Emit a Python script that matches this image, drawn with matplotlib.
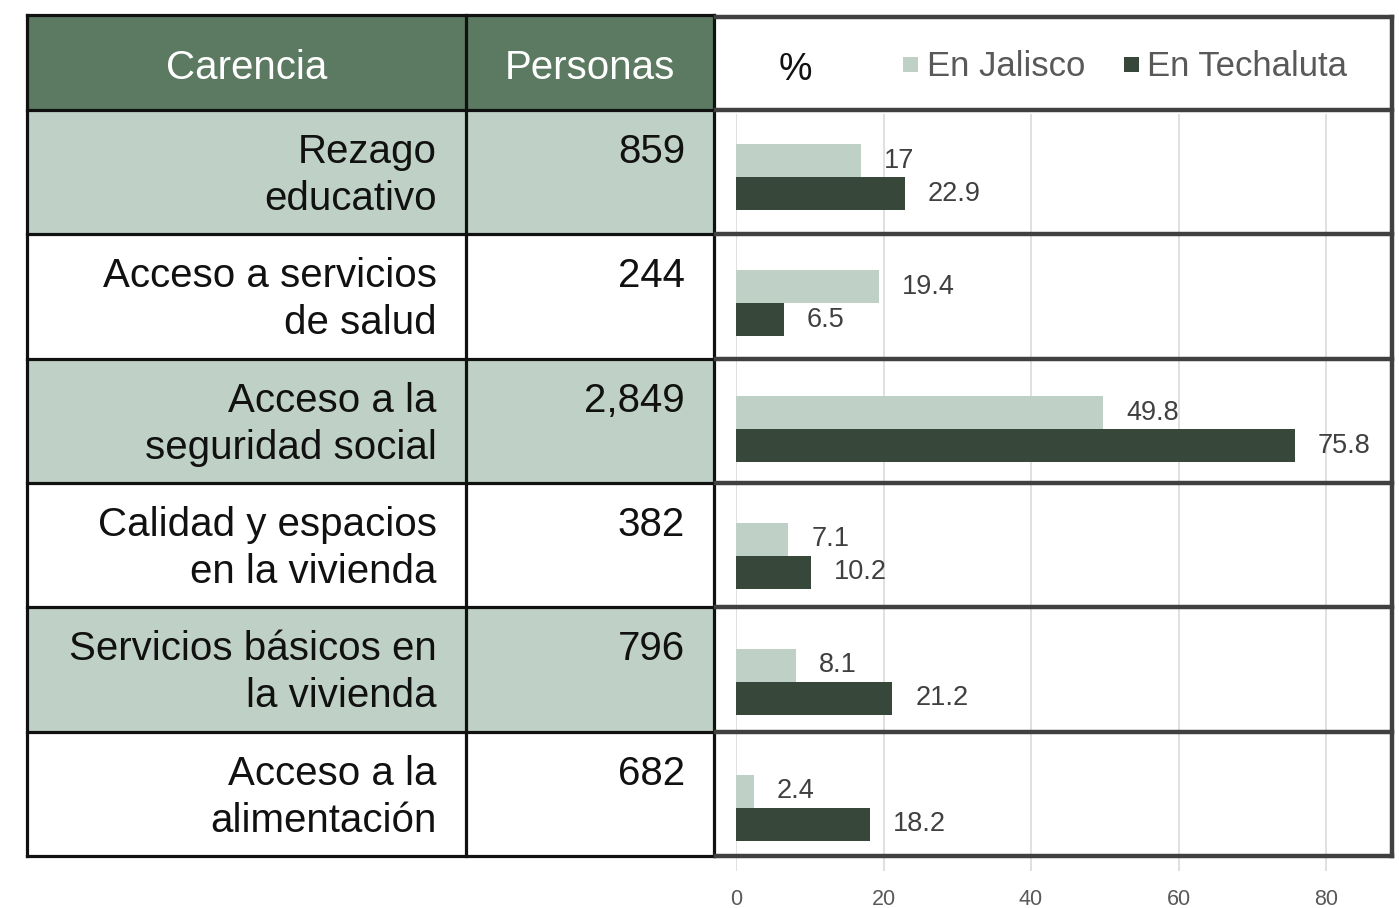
import matplotlib
matplotlib.use("Agg")
import matplotlib.pyplot as plt
from matplotlib.patches import Rectangle

plt.rcParams['font.family'] = ['Liberation Sans', 'DejaVu Sans']

# datos
carencias = ['Rezago\neducativo', 'Acceso a servicios\nde salud', 'Acceso a la\nseguridad social',
             'Calidad y espacios\nen la vivienda', 'Servicios básicos en\nla vivienda', 'Acceso a la\nalimentación']
personas = [859, 244, 2849, 382, 796, 682]
jalisco = [17, 19.4, 49.8, 7.1, 8.1, 2.4]
techaluta = [22.9, 6.5, 75.8, 10.2, 21.2, 18.2]
ticks = [0, 20, 40, 60, 80]

verde_osc = '#5B7A61'
verde_cl = '#BFD1C6'
barra_osc = '#37483A'
gris = '#595959'

W, H = 1399, 908
fig = plt.figure(figsize=(W / 100, H / 100), dpi=100)

# zona de barras (coordenadas en pixeles -> fraccion)
x0, x1 = 736, 1392
y_top, y_bot = 114, 871
px_per = 7.375
axb = fig.add_axes([x0 / W, (H - y_bot) / H, (x1 - x0) / W, (y_bot - y_top) / H])
axb.set_zorder(1)
n = len(carencias)
pos = list(range(n))
h = 0.262
axb.barh([p - h / 2 for p in pos], jalisco, height=h, color=verde_cl, zorder=2)
axb.barh([p + h / 2 for p in pos], techaluta, height=h, color=barra_osc, zorder=2)
for p, v in zip(pos, jalisco):
    axb.annotate(f"{v:g}", xy=(v, p - h / 2), xytext=(16.5, 0), textcoords='offset points',
                 va='center', ha='left', fontsize=19.5, color='#404040')
for p, v in zip(pos, techaluta):
    axb.annotate(f"{v:g}", xy=(v, p + h / 2), xytext=(16.5, 0), textcoords='offset points',
                 va='center', ha='left', fontsize=19.5, color='#404040')
axb.set_xlim(0, (x1 - x0) / px_per)
axb.set_ylim(n - 0.5, -0.5)
axb.set_xticks(ticks)
axb.set_yticks([])
axb.grid(axis='x', color='#DDDDDD', linewidth=1.3, zorder=0)
axb.set_axisbelow(True)
axb.tick_params(axis='x', length=0, pad=13, labelsize=15.5, labelcolor=gris)
for s in axb.spines.values():
    s.set_visible(False)
axb.patch.set_alpha(0)

# tabla
ax = fig.add_axes([0, 0, 1, 1])
ax.set_zorder(2)
ax.set_xlim(0, W)
ax.set_ylim(H, 0)
ax.axis('off')
ax.patch.set_alpha(0)

xl, xm, xr = 27, 466, 714
ht, hb = 15, 110
yb = 856
rh = (yb - hb) / n

ax.add_patch(Rectangle((xl, ht), xr - xl, hb - ht, facecolor=verde_osc, edgecolor='none'))
for i in range(n):
    if i % 2 == 0:
        ax.add_patch(Rectangle((xl, hb + i * rh), xr - xl, rh, facecolor=verde_cl, edgecolor='none'))

ax.text((xl + xm) / 2, 79, 'Carencia', color='white', fontsize=29, ha='center', va='baseline')
ax.text((xm + xr) / 2, 79, 'Personas', color='white', fontsize=29, ha='center', va='baseline')

for i, (c, p) in enumerate(zip(carencias, personas)):
    top = hb + i * rh
    for j, linea in enumerate(c.split('\n')):
        ax.text(437, top + 53 + j * 47, linea, fontsize=29, ha='right', va='baseline', color='#111111')
    ax.text(685, top + 53, f"{p:,}", fontsize=29, ha='right', va='baseline', color='#111111')

# encabezado de la zona de barras
ax.text(795, 80, '%', fontsize=27, ha='center', va='baseline', color='#111111')
ax.add_patch(Rectangle((903, 57), 15, 15, facecolor=verde_cl, edgecolor='none'))
ax.text(927, 76, 'En Jalisco', fontsize=25, ha='left', va='baseline', color=gris)
ax.add_patch(Rectangle((1124, 57), 15, 15, facecolor=barra_osc, edgecolor='none'))
ax.text(1147, 76, 'En Techaluta', fontsize=25, ha='left', va='baseline', color=gris)

# lineas de la tabla
lw_t = 2.3
for y in [ht, hb] + [hb + i * rh for i in range(1, n)] + [yb]:
    ax.plot([xl, xr], [y, y], color='#111111', lw=lw_t, solid_capstyle='projecting')
for x in [xl, xm, xr]:
    ax.plot([x, x], [ht, yb], color='#111111', lw=lw_t, solid_capstyle='projecting')

# lineas de la zona de barras
lw_b = 3.2
for y in [17, hb] + [hb + i * rh for i in range(1, n)] + [yb]:
    ax.plot([xr + 2, 1392], [y, y], color='#404040', lw=lw_b, solid_capstyle='projecting')
ax.plot([1392, 1392], [17, yb], color='#404040', lw=lw_b, solid_capstyle='projecting')

fig.savefig('out.png', dpi=100, facecolor='white')
